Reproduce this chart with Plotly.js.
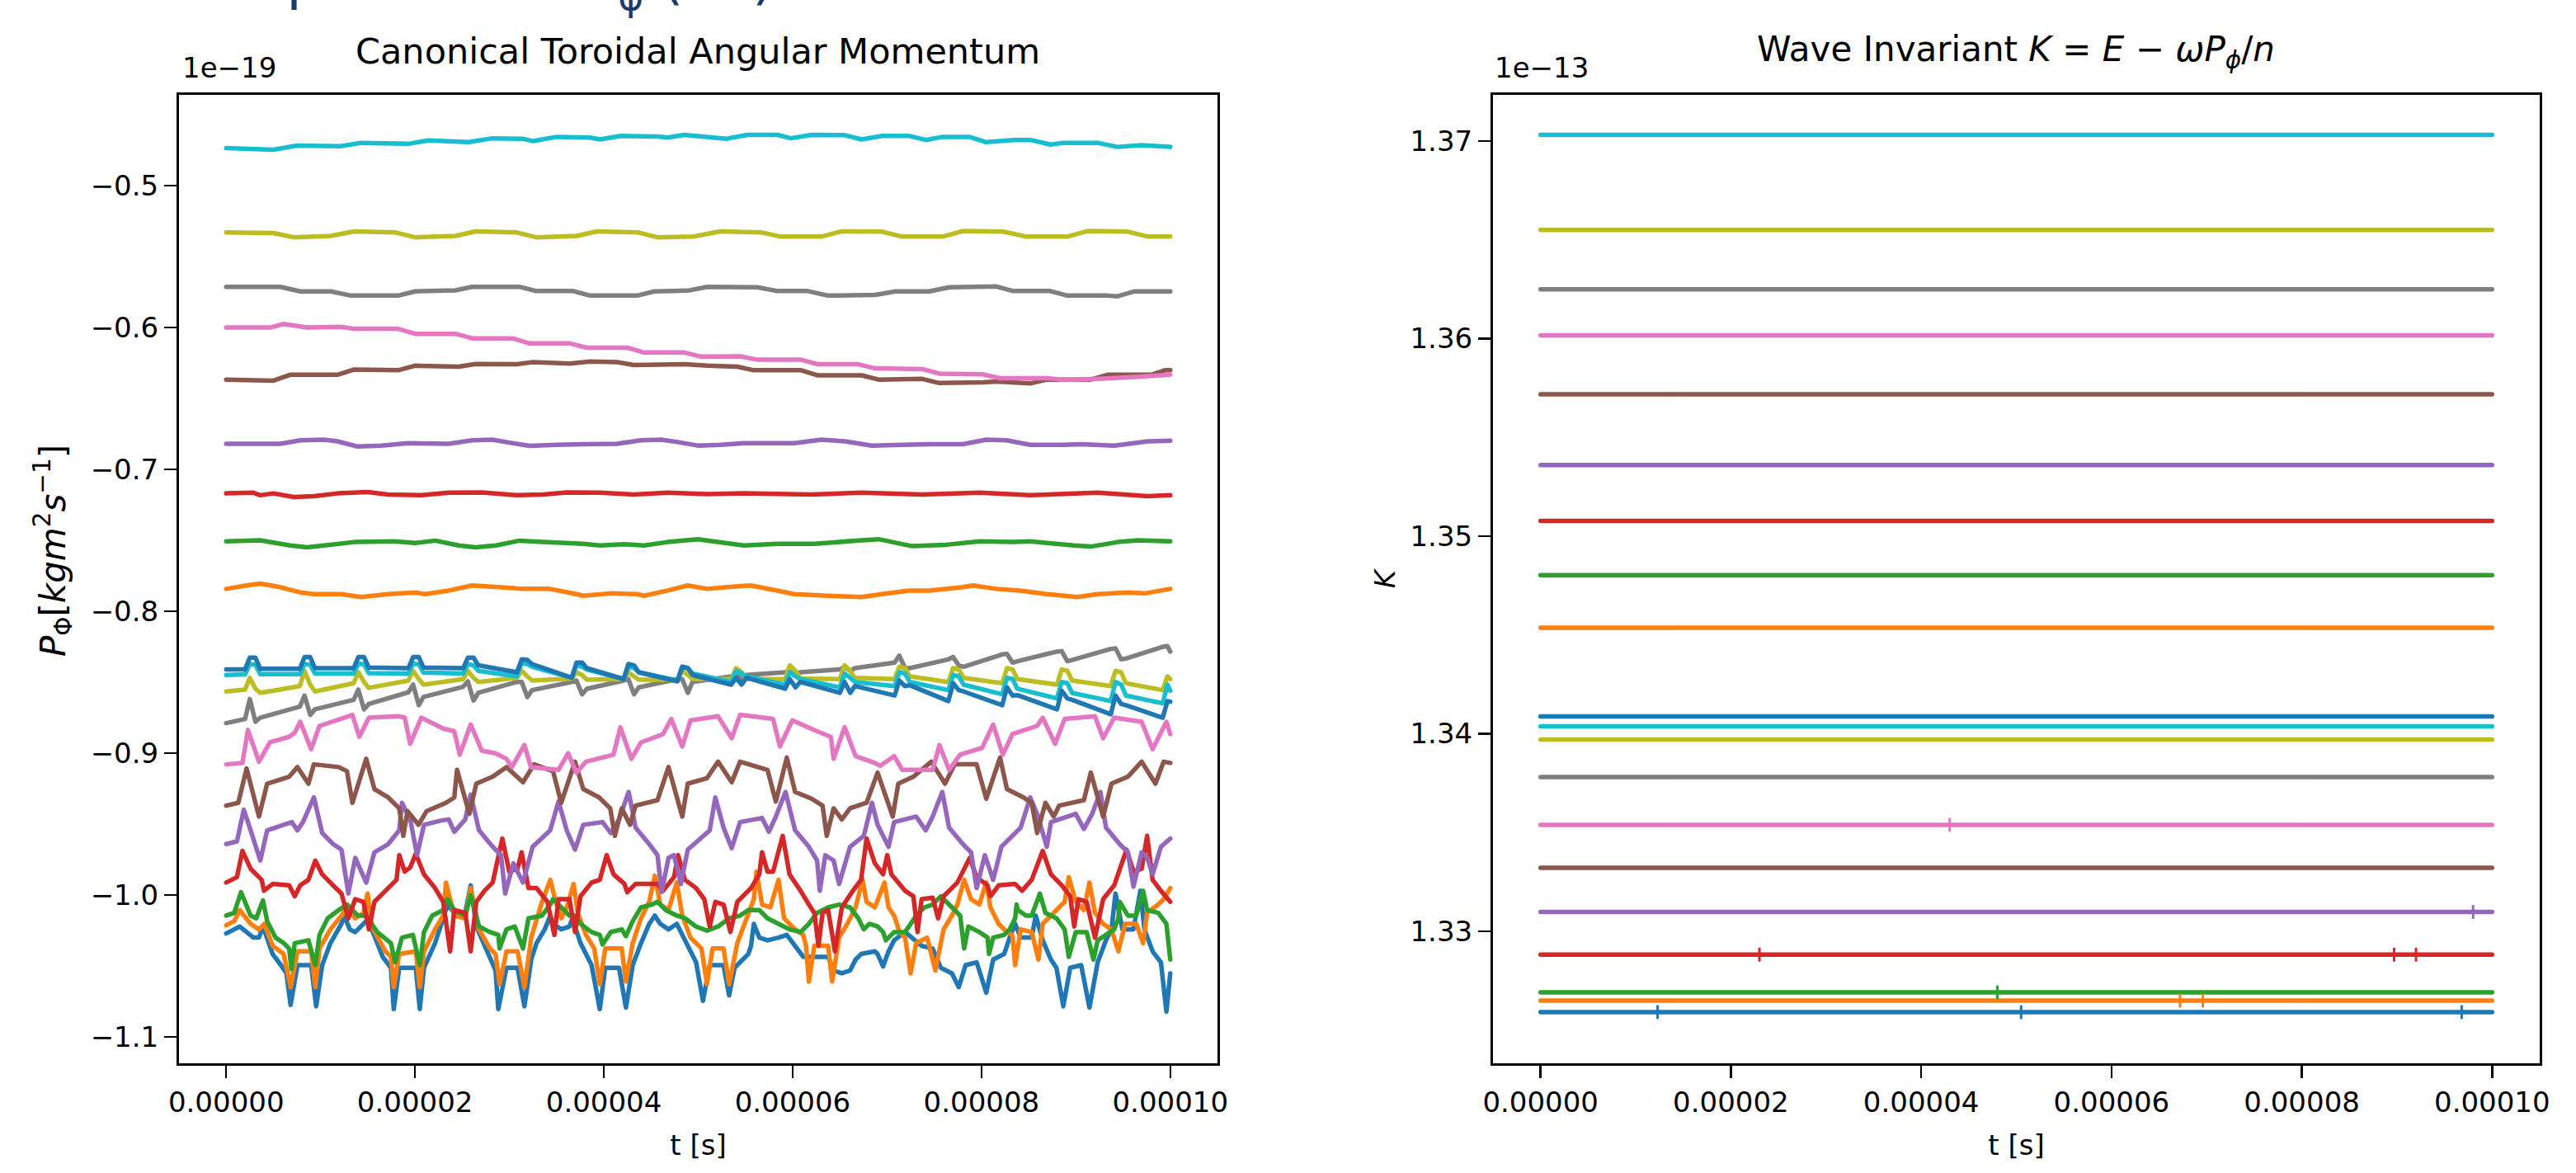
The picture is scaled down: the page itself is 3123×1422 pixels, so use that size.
<!DOCTYPE html>
<html>
<head>
<meta charset="utf-8">
<script src="https://cdn.plot.ly/plotly-3.0.1.min.js"></script>
<style>
html,body{margin:0;padding:0;background:#fff;}
#chart{width:3123px;height:1422px;}
path.js-line{stroke-linejoin:round;stroke-linecap:round;}
</style>
</head>
<body>
<div id="chart"></div>
<script>
// ---------- units ----------
const T_UNIT = 1e-5;              // all time arrays below are in units of 1e-5 s
const P_OFFSET_LABEL = '1e\u221219'; // P_phi values below are in units of 1e-19
const K_OFFSET_LABEL = '1e\u221213'; // K values below are in units of 1e-13
const TAB10 = ['#1f77b4','#ff7f0e','#2ca02c','#d62728','#9467bd','#8c564b','#e377c2','#7f7f7f','#bcbd22','#17becf'];

// ---------- left panel: canonical toroidal angular momentum (20 particles) ----------
// particle 0 (blue)
const tBlue0 = [0,0.143,0.288,0.347,0.390,0.492,0.580,0.638,0.682,0.755,0.900,0.953,1.017,1.104,1.221,1.250,1.309,1.367,1.483,1.542,1.658,1.745,1.775,1.833,2.008,2.051,2.095,2.212,2.299,2.343,2.416,2.532,2.590,2.649,2.765,2.853,2.882,2.969,3.086,3.159,3.231,3.287,3.374,3.433,3.462,3.549,3.636,3.666,3.753,3.870,3.957,4.015,4.161,4.234,4.306,4.394,4.481,4.540,4.598,4.685,4.773,4.860,4.977,5.050,5.122,5.268,5.327,5.385,5.443,5.530,5.559,5.589,5.647,5.734,5.851,5.938,6.113,6.376,6.434,6.521,6.608,6.667,6.725,6.871,6.900,6.958,7.016,7.075,7.191,7.366,7.483,7.570,7.687,7.759,7.832,7.949,8.051,8.124,8.240,8.299,8.357,8.415,8.532,8.575,8.649,8.736,8.794,8.867,8.940,9.056,9.144,9.231,9.319,9.377,9.420,9.493,9.610,9.683,9.726,9.813,9.901,9.959,10.0];
const pBlue0 = [-1.0271,-1.0222,-1.0300,-1.0300,-1.0222,-1.0416,-1.0494,-1.0552,-1.0775,-1.0494,
-1.0494,-1.0784,-1.0494,-1.0339,-1.0203,-1.0145,-1.0242,-1.0261,-1.0184,-1.0242,
-1.0436,-1.0513,-1.0804,-1.0513,-1.0513,-1.0804,-1.0513,-1.0339,-1.0164,-1.0067,
-1.0126,-1.0126,-0.9932,-1.0222,-1.0397,-1.0532,-1.0804,-1.0513,-1.0513,-1.0784,
-1.0455,-1.0339,-1.0242,-1.0145,-1.0203,-1.0242,-1.0222,-1.0164,-1.0339,-1.0494,
-1.0804,-1.0513,-1.0513,-1.0794,-1.0494,-1.0339,-1.0203,-1.0145,-1.0203,-1.0242,
-1.0203,-1.0319,-1.0474,-1.0746,-1.0494,-1.0494,-1.0707,-1.0513,-1.0474,-1.0416,
-1.0358,-1.0203,-1.0300,-1.0319,-1.0300,-1.0281,-1.0436,-1.0436,-1.0532,-1.0552,
-1.0532,-1.0455,-1.0416,-1.0397,-1.0416,-1.0503,-1.0397,-1.0319,-1.0261,-1.0358,
-1.0377,-1.0513,-1.0552,-1.0649,-1.0494,-1.0474,-1.0688,-1.0455,-1.0416,-1.0300,
-1.0203,-1.0300,-1.0300,-1.0145,-1.0319,-1.0455,-1.0513,-1.0784,-1.0513,-1.0494,
-1.0794,-1.0474,-1.0319,-1.0242,-0.9990,-1.0242,-1.0242,-0.9970,-1.0242,-1.0397,
-1.0474,-1.0823,-1.0552];

// particle 1 (orange)
const tOrange1 = [0,0.085,0.143,0.259,0.347,0.405,0.492,0.609,0.682,0.755,0.900,0.944,0.988,1.104,1.221,1.279,1.367,1.454,1.498,1.542,1.687,1.745,1.775,1.833,2.008,2.051,2.095,2.212,2.299,2.328,2.416,2.532,2.590,2.678,2.794,2.853,2.896,2.969,3.086,3.159,3.231,3.345,3.433,3.491,3.549,3.607,3.680,3.724,3.811,3.899,3.957,4.015,4.190,4.234,4.306,4.394,4.481,4.540,4.598,4.685,4.773,4.831,4.918,5.035,5.093,5.152,5.268,5.327,5.414,5.501,5.589,5.618,5.676,5.764,5.851,5.909,6.026,6.113,6.142,6.172,6.230,6.376,6.419,6.492,6.579,6.667,6.740,6.783,6.871,6.973,7.016,7.075,7.133,7.191,7.250,7.308,7.425,7.512,7.599,7.687,7.745,7.817,7.890,7.978,8.051,8.095,8.182,8.270,8.328,8.357,8.415,8.532,8.604,8.649,8.765,8.881,8.925,8.998,9.085,9.144,9.202,9.289,9.377,9.450,9.522,9.639,9.712,9.755,9.872,9.930,10.0];
const pOrange1 = [-1.0213,-1.0184,-1.0106,-1.0203,-1.0242,-1.0203,-1.0358,-1.0416,-1.0649,-1.0397,
-1.0397,-1.0649,-1.0377,-1.0242,-1.0145,-1.0087,-1.0164,-1.0126,-0.9990,-1.0222,
-1.0397,-1.0436,-1.0649,-1.0416,-1.0397,-1.0649,-1.0397,-1.0242,-1.0145,-0.9912,
-1.0145,-1.0164,-0.9951,-1.0242,-1.0377,-1.0416,-1.0629,-1.0397,-1.0397,-1.0649,
-1.0300,-1.0048,-0.9893,-1.0048,-1.0164,-1.0087,-0.9922,-1.0126,-1.0281,-1.0377,
-1.0629,-1.0377,-1.0377,-1.0610,-1.0339,-1.0164,-1.0048,-0.9864,-1.0067,-1.0106,
-0.9912,-1.0145,-1.0300,-1.0377,-1.0629,-1.0377,-1.0377,-1.0629,-1.0339,-1.0184,
-1.0029,-0.9835,-1.0067,-1.0087,-0.9893,-1.0164,-1.0242,-1.0281,-1.0358,-1.0610,
-1.0358,-1.0358,-1.0610,-1.0300,-1.0203,-1.0087,-0.9893,-1.0048,-1.0087,-0.9912,
-1.0087,-1.0145,-1.0261,-1.0300,-1.0552,-1.0339,-1.0300,-1.0532,-1.0242,-1.0145,
-1.0067,-0.9893,-1.0029,-1.0067,-0.9912,-1.0087,-1.0203,-1.0261,-1.0281,-1.0494,
-1.0242,-1.0261,-1.0455,-1.0203,-1.0126,-1.0048,-0.9874,-1.0048,-1.0106,-0.9912,
-1.0126,-1.0203,-1.0242,-1.0397,-1.0203,-1.0203,-1.0339,-1.0126,-1.0067,-1.0029,
-0.9951];

// particle 2 (green)
const tGreen2 = [0,0.085,0.157,0.259,0.318,0.390,0.434,0.522,0.609,0.667,0.691,0.726,0.871,0.944,0.988,1.075,1.192,1.279,1.396,1.483,1.600,1.745,1.789,1.862,1.978,2.051,2.095,2.182,2.299,2.343,2.416,2.532,2.590,2.678,2.794,2.882,2.896,2.969,3.057,3.144,3.202,3.345,3.433,3.462,3.549,3.636,3.695,3.753,3.870,3.957,3.986,4.074,4.190,4.234,4.306,4.394,4.510,4.569,4.656,4.773,4.860,4.977,5.093,5.210,5.327,5.443,5.530,5.647,5.734,5.851,5.967,6.084,6.172,6.259,6.376,6.492,6.608,6.696,6.754,6.812,6.900,6.958,6.987,7.075,7.191,7.250,7.308,7.395,7.483,7.570,7.657,7.716,7.774,7.817,7.861,7.978,8.065,8.080,8.124,8.240,8.299,8.357,8.372,8.386,8.473,8.532,8.619,8.678,8.794,8.881,8.925,8.998,9.114,9.187,9.231,9.319,9.406,9.450,9.464,9.551,9.639,9.712,9.755,9.872,9.959,10.0];
const pGreen2 = [-1.0145,-1.0126,-0.9980,-1.0145,-1.0164,-1.0038,-1.0184,-1.0300,-1.0339,-1.0377,
-1.0523,-1.0339,-1.0319,-1.0494,-1.0281,-1.0164,-1.0106,-1.0067,-1.0145,-1.0145,
-1.0261,-1.0339,-1.0474,-1.0300,-1.0281,-1.0494,-1.0261,-1.0145,-1.0106,-1.0029,
-1.0106,-1.0145,-1.0000,-1.0222,-1.0261,-1.0281,-1.0377,-1.0242,-1.0222,-1.0377,
-1.0164,-1.0145,-1.0067,-1.0029,-1.0087,-1.0145,-1.0145,-1.0203,-1.0261,-1.0281,
-1.0348,-1.0261,-1.0242,-1.0290,-1.0184,-1.0087,-1.0067,-1.0048,-1.0106,-1.0145,
-1.0164,-1.0222,-1.0251,-1.0222,-1.0164,-1.0145,-1.0106,-1.0106,-1.0164,-1.0203,
-1.0242,-1.0261,-1.0203,-1.0126,-1.0087,-1.0067,-1.0087,-1.0164,-1.0242,-1.0203,
-1.0222,-1.0261,-1.0319,-1.0261,-1.0261,-1.0203,-1.0145,-1.0087,-1.0067,-1.0009,
-1.0067,-1.0106,-1.0145,-1.0377,-1.0222,-1.0261,-1.0300,-1.0416,-1.0300,-1.0281,
-1.0242,-1.0164,-1.0067,-1.0106,-1.0145,-1.0145,-0.9990,-1.0126,-1.0164,-1.0242,
-1.0436,-1.0261,-1.0261,-1.0455,-1.0319,-1.0281,-1.0242,-1.0164,-1.0048,-1.0145,
-1.0145,-0.9970,-1.0106,-1.0126,-1.0203,-1.0455];

// particle 3 (red)
const tRed3 = [0,0.114,0.172,0.259,0.376,0.40,0.492,0.667,0.726,0.784,0.871,0.944,1.017,1.133,1.221,1.294,1.367,1.454,1.512,1.570,1.687,1.804,1.833,1.891,1.949,2.008,2.095,2.212,2.299,2.372,2.416,2.532,2.590,2.649,2.736,2.823,2.925,2.998,3.086,3.129,3.202,3.287,3.403,3.476,3.520,3.636,3.695,3.753,3.870,3.957,4.030,4.103,4.219,4.248,4.336,4.569,4.627,4.744,4.787,4.860,4.977,5.064,5.122,5.181,5.268,5.341,5.414,5.559,5.647,5.676,5.734,5.793,5.895,5.967,6.084,6.172,6.230,6.274,6.317,6.376,6.448,6.521,6.638,6.725,6.783,6.871,6.958,7.002,7.046,7.191,7.279,7.323,7.366,7.483,7.541,7.599,7.745,7.876,7.949,8.065,8.095,8.182,8.357,8.430,8.532,8.649,8.736,8.852,8.940,8.983,9.027,9.114,9.202,9.289,9.406,9.537,9.610,9.697,9.755,9.813,9.901,10.0];
const pRed3 = [-0.9912,-0.9874,-0.9689,-0.9815,-0.9893,-0.9970,-0.9922,-0.9932,-1.0009,-0.9932,
-0.9893,-0.9757,-0.9854,-0.9932,-0.9990,-1.0164,-1.0029,-1.0048,-1.0242,-1.0048,
-0.9970,-0.9893,-0.9719,-0.9835,-0.9806,-0.9709,-0.9854,-0.9951,-1.0048,-1.0397,
-1.0106,-1.0126,-1.0397,-1.0048,-0.9970,-0.9912,-0.9602,-0.9835,-0.9815,-0.9699,
-0.9951,-0.9951,-1.0048,-1.0281,-1.0029,-1.0029,-1.0261,-1.0009,-0.9912,-0.9893,
-0.9719,-0.9854,-0.9922,-0.9980,-0.9922,-0.9922,-0.9970,-0.9874,-0.9719,-0.9893,
-0.9951,-1.0029,-1.0222,-1.0048,-1.0067,-1.0261,-1.0048,-0.9951,-0.9854,-0.9699,
-0.9835,-0.9835,-0.9583,-0.9854,-0.9970,-1.0067,-1.0126,-1.0358,-1.0126,-1.0106,
-1.0397,-1.0087,-0.9970,-0.9893,-0.9602,-0.9777,-0.9854,-0.9719,-0.9854,-0.9970,
-1.0009,-1.0261,-1.0029,-1.0019,-1.0164,-1.0009,-0.9912,-0.9738,-0.9874,-0.9932,
-1.0009,-0.9932,-0.9922,-0.9970,-0.9893,-0.9689,-0.9854,-0.9932,-1.0009,-1.0222,
-1.0029,-1.0048,-1.0300,-1.0029,-0.9932,-0.9680,-0.9835,-0.9815,-0.9583,-0.9893,
-0.9970,-1.0048];

// particle 4 (purple)
const tPurple4 = [0,0.114,0.186,0.259,0.361,0.434,0.609,0.696,0.755,0.813,0.929,1.017,1.133,1.221,1.294,1.367,1.483,1.570,1.716,1.833,1.862,1.949,2.022,2.095,2.270,2.357,2.416,2.532,2.590,2.678,2.823,2.911,2.955,3.042,3.144,3.246,3.432,3.520,3.607,3.695,3.782,3.986,4.074,4.161,4.263,4.336,4.481,4.569,4.612,4.685,4.743,4.816,4.889,5.122,5.181,5.268,5.355,5.443,5.676,5.749,5.822,5.924,6.026,6.172,6.259,6.288,6.346,6.434,6.492,6.608,6.754,6.84,6.90,7.016,7.075,7.308,7.410,7.483,7.585,7.657,7.803,7.890,7.949,8.036,8.124,8.211,8.415,8.517,8.590,8.692,8.736,8.998,9.085,9.173,9.260,9.319,9.464,9.551,9.610,9.697,9.756,9.813,9.901,10.0];
const pPurple4 = [-0.9641,-0.9622,-0.9399,-0.9544,-0.9757,-0.9544,-0.9505,-0.9486,-0.9544,-0.9486,
-0.9312,-0.9563,-0.9641,-0.9680,-0.9990,-0.9738,-0.9912,-0.9699,-0.9641,-0.9544,
-0.9350,-0.9467,-0.9719,-0.9505,-0.9476,-0.9467,-0.9554,-0.9467,-0.9292,-0.9544,
-0.9660,-0.9719,-0.9990,-0.9777,-0.9912,-0.9660,-0.9544,-0.9341,-0.9544,-0.9680,
-0.9505,-0.9486,-0.9563,-0.9467,-0.9273,-0.9525,-0.9641,-0.9719,-0.9980,-0.9738,
-0.9719,-0.9922,-0.9680,-0.9544,-0.9312,-0.9525,-0.9670,-0.9486,-0.9457,-0.9554,
-0.9447,-0.9273,-0.9544,-0.9660,-0.9757,-0.9970,-0.9719,-0.9757,-0.9922,-0.9660,
-0.9583,-0.9350,-0.9505,-0.9660,-0.9486,-0.9447,-0.9544,-0.9447,-0.9273,-0.9525,
-0.9641,-0.9699,-0.9951,-0.9719,-0.9893,-0.9660,-0.9525,-0.9312,-0.9428,-0.9660,
-0.9486,-0.9428,-0.9534,-0.9428,-0.9273,-0.9525,-0.9641,-0.9699,-0.9941,-0.9699,
-0.9738,-0.9854,-0.9660,-0.9602];

// particle 5 (brown)
const tBrown5 = [0,0.128,0.216,0.347,0.434,0.667,0.755,0.871,0.929,1.192,1.279,1.337,1.483,1.570,1.716,1.833,1.876,1.920,2.037,2.124,2.328,2.416,2.445,2.576,2.649,2.823,2.969,3.144,3.261,3.462,3.549,3.695,3.782,3.951,4.068,4.117,4.190,4.278,4.336,4.569,4.685,4.831,4.889,5.093,5.210,5.355,5.443,5.734,5.822,5.938,6.026,6.201,6.317,6.361,6.434,6.521,6.608,6.783,6.900,7.060,7.119,7.279,7.468,7.614,7.716,7.949,8.051,8.197,8.270,8.445,8.532,8.590,8.678,8.765,8.823,9.085,9.158,9.289,9.377,9.551,9.697,9.843,9.930,10.0];
const pBrown5 = [-0.9370,-0.9350,-0.9108,-0.9447,-0.9215,-0.9166,-0.9098,-0.9215,-0.9079,-0.9098,
-0.9127,-0.9350,-0.9040,-0.9253,-0.9312,-0.9389,-0.9583,-0.9408,-0.9505,-0.9408,
-0.9350,-0.9312,-0.9118,-0.9428,-0.9215,-0.9166,-0.9098,-0.9205,-0.9079,-0.9127,
-0.9350,-0.9060,-0.9253,-0.9312,-0.9389,-0.9583,-0.9389,-0.9505,-0.9370,-0.9331,
-0.9098,-0.9447,-0.9215,-0.9176,-0.9060,-0.9205,-0.9060,-0.9118,-0.9341,-0.9031,
-0.9273,-0.9321,-0.9370,-0.9583,-0.9389,-0.9467,-0.9389,-0.9350,-0.9137,-0.9447,
-0.9215,-0.9166,-0.9060,-0.9215,-0.9079,-0.9079,-0.9321,-0.9031,-0.9253,-0.9312,
-0.9350,-0.9563,-0.9350,-0.9447,-0.9370,-0.9331,-0.9137,-0.9447,-0.9215,-0.9166,
-0.9060,-0.9215,-0.9060,-0.9069];

// particle 6 (pink)
const tPink6 = [0,0.172,0.230,0.347,0.463,0.667,0.726,0.784,0.900,0.988,1.250,1.337,1.410,1.512,1.833,1.891,1.949,2.066,2.124,2.299,2.416,2.474,2.590,2.707,2.853,2.969,3.027,3.159,3.228,3.520,3.622,3.709,3.811,4.044,4.103,4.175,4.292,4.394,4.627,4.714,4.831,4.918,5.210,5.355,5.443,5.793,5.865,5.997,6.259,6.405,6.434,6.550,6.667,6.871,6.929,7.075,7.162,7.483,7.555,7.657,7.774,8.007,8.124,8.226,8.328,8.590,8.649,8.780,8.881,9.202,9.289,9.406,9.697,9.813,9.959,10.0];
const pPink6 = [-0.9079,-0.9069,-0.8837,-0.9060,-0.8924,-0.8885,-0.8856,-0.8779,-0.8972,-0.8808,
-0.8750,-0.8730,-0.8885,-0.8750,-0.8740,-0.8750,-0.8934,-0.8750,-0.8769,-0.8827,
-0.8846,-0.9011,-0.8798,-0.8982,-0.9001,-0.9040,-0.9098,-0.8943,-0.9098,-0.9118,
-0.9001,-0.9137,-0.9060,-0.9021,-0.9011,-0.8817,-0.9040,-0.8924,-0.8866,-0.8759,
-0.8953,-0.8769,-0.8740,-0.8895,-0.8730,-0.8759,-0.8953,-0.8769,-0.8846,-0.8885,
-0.9040,-0.8817,-0.9021,-0.9069,-0.9089,-0.9021,-0.9118,-0.9118,-0.8943,-0.9118,
-0.9011,-0.8963,-0.8798,-0.9011,-0.8866,-0.8808,-0.8750,-0.8934,-0.8759,-0.8740,
-0.8895,-0.8750,-0.8779,-0.8972,-0.8779,-0.8866];

// particles 7-10 share their sampling times (bumps occur together)
const tBumpGroup = [0,
0.20,0.25,0.31,0.36, 0.78,0.83,0.89,0.94, 1.35,1.40,1.46,1.51, 1.93,1.98,2.04,2.09,
2.51,2.56,2.62,2.67, 3.08,3.13,3.19,3.24, 3.66,3.71,3.77,3.82, 4.21,4.26,4.32,4.37,
4.78,4.83,4.89,4.94, 5.35,5.40,5.46,5.51, 5.92,5.97,6.03,6.08, 6.50,6.55,6.61,6.66,
7.08,7.13,7.19,7.24, 7.65,7.70,7.76,7.81, 8.22,8.27,8.33,8.38, 8.80,8.85,8.91,8.96,
9.37,9.42,9.48,9.53, 9.92,9.97,10.0];
const pGray7 = [-0.8788,
-0.8759,-0.8618,-0.8779,-0.8750, -0.8672,-0.8594,-0.8730,-0.8691, -0.8624,-0.8552,-0.8691,-0.8653, -0.8571,-0.8517,-0.8662,-0.8604,
-0.8532,-0.8494,-0.8629,-0.8575, -0.8498,-0.8498,-0.8604,-0.8556, -0.8498,-0.8488,-0.8585,-0.8546, -0.8488,-0.8478,-0.8585,-0.8536,
-0.8478,-0.8478,-0.8575,-0.8498, -0.8459,-0.8449,-0.8478,-0.8449, -0.8430,-0.8420,-0.8449,-0.8430, -0.8410,-0.8391,-0.8420,-0.8401,
-0.8362,-0.8313,-0.8401,-0.8401, -0.8339,-0.8323,-0.8381,-0.8391, -0.8304,-0.8300,-0.8362,-0.8352, -0.8284,-0.8281,-0.8352,-0.8343,
-0.8265,-0.8261,-0.8339,-0.8333, -0.8250,-0.8246,-0.8284];
const pOlive8 = [-0.8565,
-0.8552,-0.8469,-0.8546,-0.8575, -0.8527,-0.8420,-0.8517,-0.8565, -0.8507,-0.8430,-0.8498,-0.8540, -0.8488,-0.8420,-0.8478,-0.8517,
-0.8478,-0.8420,-0.8469,-0.8498, -0.8469,-0.8420,-0.8459,-0.8488, -0.8474,-0.8430,-0.8449,-0.8482, -0.8478,-0.8430,-0.8459,-0.8482,
-0.8482,-0.8420,-0.8449,-0.8478, -0.8478,-0.8401,-0.8430,-0.8478, -0.8478,-0.8381,-0.8420,-0.8474, -0.8478,-0.8381,-0.8420,-0.8469,
-0.8478,-0.8391,-0.8401,-0.8459, -0.8498,-0.8401,-0.8410,-0.8469, -0.8507,-0.8401,-0.8410,-0.8478, -0.8517,-0.8410,-0.8420,-0.8488,
-0.8527,-0.8420,-0.8430,-0.8507, -0.8556,-0.8459,-0.8478];
const pCyan9 = [-0.8449,
-0.8445,-0.8372,-0.8377,-0.8443, -0.8443,-0.8372,-0.8377,-0.8439, -0.8439,-0.8368,-0.8374,-0.8436, -0.8439,-0.8368,-0.8374,-0.8432,
-0.8439,-0.8372,-0.8381,-0.8420, -0.8459,-0.8362,-0.8372,-0.8391, -0.8469,-0.8381,-0.8391,-0.8410, -0.8478,-0.8391,-0.8401,-0.8430,
-0.8488,-0.8391,-0.8401,-0.8439, -0.8498,-0.8420,-0.8439,-0.8459, -0.8517,-0.8430,-0.8459,-0.8478, -0.8536,-0.8439,-0.8469,-0.8498,
-0.8527,-0.8430,-0.8439,-0.8498, -0.8556,-0.8449,-0.8459,-0.8517, -0.8585,-0.8469,-0.8478,-0.8546, -0.8614,-0.8498,-0.8507,-0.8575,
-0.8633,-0.8498,-0.8517,-0.8594, -0.8649,-0.8517,-0.8560];
const pBlue10 = [-0.8410,
-0.8410,-0.8327,-0.8327,-0.8405, -0.8405,-0.8323,-0.8323,-0.8401, -0.8401,-0.8323,-0.8323,-0.8397, -0.8401,-0.8323,-0.8323,-0.8397,
-0.8401,-0.8327,-0.8327,-0.8381, -0.8430,-0.8339,-0.8343,-0.8372, -0.8469,-0.8362,-0.8362,-0.8401, -0.8478,-0.8372,-0.8381,-0.8430,
-0.8494,-0.8391,-0.8401,-0.8449, -0.8517,-0.8469,-0.8517,-0.8469, -0.8546,-0.8478,-0.8536,-0.8498, -0.8575,-0.8498,-0.8575,-0.8527,
-0.8594,-0.8488,-0.8527,-0.8521, -0.8633,-0.8507,-0.8556,-0.8565, -0.8662,-0.8536,-0.8594,-0.8591, -0.8691,-0.8560,-0.8614,-0.8624,
-0.8726,-0.8594,-0.8653,-0.8662, -0.8750,-0.8633,-0.8637];

// particles 11-19: nearly steady lines
const tOrange11 = [0,0.216,0.358,0.572,0.786,0.929,1.215,1.429,1.714,2.0,2.107,2.356,2.606,2.891,3.141,3.427,3.712,3.783,4.069,4.354,4.426,4.675,4.89,5.096,5.305,5.555,5.84,6.018,6.375,6.732,6.946,7.231,7.446,7.802,7.909,8.159,8.409,8.694,9.015,9.23,9.55,9.729,10.0];
const pOrange11 = [-0.7842,-0.7818,-0.7805,-0.7830,-0.7867,-0.7879,-0.7879,-0.7899,-0.7879,-0.7867,-0.7879,-0.7854,-0.7818,-0.7830,-0.7842,-0.7842,-0.7879,-0.7891,-0.7874,-0.7879,-0.7891,-0.7854,-0.7818,-0.7842,-0.7830,-0.7818,-0.7854,-0.7879,-0.7891,-0.7899,-0.7879,-0.7854,-0.7854,-0.7830,-0.7818,-0.7842,-0.7854,-0.7879,-0.7899,-0.7879,-0.7867,-0.7874,-0.7842];
const tGreen12 = [0,0.358,0.679,0.858,1.036,1.357,1.785,2.0,2.214,2.463,2.642,2.856,3.106,3.355,3.605,3.783,3.962,4.211,4.426,4.675,4.996,5.483,5.84,6.232,6.732,6.91,7.267,7.624,7.981,8.338,8.516,8.98,9.158,9.444,9.658,10.0];
const pGreen12 = [-0.7507,-0.7500,-0.7536,-0.7549,-0.7536,-0.7512,-0.7507,-0.7519,-0.7502,-0.7536,-0.7549,-0.7536,-0.7502,-0.7512,-0.7519,-0.7524,-0.7536,-0.7527,-0.7536,-0.7512,-0.7492,-0.7536,-0.7524,-0.7524,-0.7500,-0.7492,-0.7541,-0.7531,-0.7507,-0.7512,-0.7507,-0.7536,-0.7544,-0.7512,-0.7500,-0.7507];
const tRed13 = [0,0.287,0.358,0.5,0.715,0.929,1.179,1.5,1.714,2.071,2.356,2.713,3.07,3.355,3.605,3.962,4.319,4.675,5.096,5.483,6.197,6.732,7.374,7.981,8.516,9.051,9.23,9.765,10.0];
const pRed13 = [-0.7169,-0.7164,-0.7182,-0.7169,-0.7194,-0.7189,-0.7169,-0.7160,-0.7177,-0.7182,-0.7164,-0.7162,-0.7182,-0.7177,-0.7162,-0.7164,-0.7177,-0.7164,-0.7174,-0.7169,-0.7177,-0.7164,-0.7177,-0.7164,-0.7182,-0.7169,-0.7164,-0.7189,-0.7182];
const tPurple14 = [0,0.572,0.786,1.036,1.179,1.393,1.643,1.928,2.356,2.606,2.82,2.963,3.213,3.498,3.783,4.14,4.39,4.604,4.782,4.996,5.234,5.483,6.018,6.304,6.554,6.839,7.16,7.446,7.802,8.052,8.266,8.516,8.873,9.051,9.408,9.765,10.0];
const pPurple14 = [-0.6819,-0.6819,-0.6795,-0.6790,-0.6802,-0.6839,-0.6832,-0.6815,-0.6819,-0.6795,-0.6790,-0.6807,-0.6834,-0.6827,-0.6822,-0.6819,-0.6795,-0.6790,-0.6807,-0.6832,-0.6827,-0.6815,-0.6815,-0.6790,-0.6802,-0.6832,-0.6827,-0.6822,-0.6822,-0.6790,-0.6795,-0.6827,-0.6827,-0.6822,-0.6832,-0.6802,-0.6797];
const tBrown15 = [0,0.5,0.679,1.179,1.357,1.821,2.0,2.463,2.642,3.07,3.248,3.641,3.855,4.14,4.319,4.854,5.096,5.412,5.59,6.09,6.268,6.732,6.91,7.374,7.553,8.016,8.159,8.516,8.694,9.158,9.337,9.8,9.943,10.0];
const pBrown15 = [-0.6367,-0.6374,-0.6333,-0.6333,-0.6296,-0.6301,-0.6269,-0.6276,-0.6257,-0.6259,-0.6244,-0.6254,-0.6240,-0.6244,-0.6264,-0.6259,-0.6269,-0.6276,-0.6301,-0.6301,-0.6337,-0.6337,-0.6367,-0.6362,-0.6391,-0.6386,-0.6381,-0.6394,-0.6367,-0.6367,-0.6333,-0.6333,-0.6301,-0.6301];
const tPink16 = [0,0.465,0.608,0.858,1.215,1.357,1.821,2.0,2.428,2.606,3.034,3.213,3.641,3.819,4.247,4.426,4.854,5.032,5.447,5.626,6.09,6.268,6.696,6.875,7.374,7.553,8.016,8.195,8.694,8.873,9.23,9.586,10.0];
const pPink16 = [-0.6000,-0.6000,-0.5975,-0.6000,-0.5995,-0.6009,-0.6009,-0.6044,-0.6044,-0.6076,-0.6076,-0.6112,-0.6112,-0.6142,-0.6142,-0.6176,-0.6176,-0.6205,-0.6203,-0.6227,-0.6227,-0.6259,-0.6259,-0.6288,-0.6293,-0.6325,-0.6330,-0.6357,-0.6357,-0.6369,-0.6362,-0.6350,-0.6332];
const tGray17 = [0,0.572,0.786,1.108,1.322,1.821,2.0,2.428,2.606,3.106,3.284,3.676,3.855,4.354,4.533,4.89,5.096,5.626,5.84,6.161,6.375,6.875,7.089,7.446,7.66,8.159,8.338,8.73,8.908,9.337,9.444,9.622,10.0];
const pGray17 = [-0.5713,-0.5713,-0.5745,-0.5745,-0.5775,-0.5775,-0.5745,-0.5738,-0.5713,-0.5713,-0.5743,-0.5743,-0.5775,-0.5775,-0.5745,-0.5740,-0.5713,-0.5716,-0.5743,-0.5743,-0.5775,-0.5770,-0.5745,-0.5745,-0.5716,-0.5711,-0.5743,-0.5743,-0.5775,-0.5775,-0.5780,-0.5745,-0.5745];
const tOlive18 = [0,0.50,0.715,1.108,1.357,1.785,2.0,2.428,2.642,3.07,3.284,3.712,3.926,4.354,4.568,4.95,5.234,5.662,5.876,6.304,6.518,6.946,7.16,7.588,7.802,8.23,8.48,8.908,9.122,9.55,9.765,10.0];
const pOlive18 = [-0.5329,-0.5334,-0.5364,-0.5354,-0.5322,-0.5329,-0.5364,-0.5354,-0.5322,-0.5329,-0.5364,-0.5354,-0.5322,-0.5329,-0.5364,-0.5359,-0.5322,-0.5329,-0.5359,-0.5359,-0.5322,-0.5324,-0.5359,-0.5359,-0.5320,-0.5324,-0.5359,-0.5359,-0.5320,-0.5324,-0.5359,-0.5359];
const tCyan19 = [0,0.50,0.75,1.21,1.43,1.93,2.14,2.57,2.82,3.14,3.25,3.50,3.85,3.96,4.18,4.57,4.68,4.85,5.30,5.52,5.84,5.98,6.20,6.55,6.73,6.95,7.23,7.41,7.59,7.87,8.05,8.34,8.52,8.73,8.87,9.23,9.44,9.69,10.0];
const pCyan19 = [-0.4735,-0.4747,-0.4718,-0.4722,-0.4698,-0.4705,-0.4681,-0.4693,-0.4666,-0.4669,-0.4686,-0.4656,-0.4661,-0.4674,-0.4649,-0.4654,-0.4661,-0.4642,-0.4669,-0.4642,-0.4642,-0.4666,-0.4642,-0.4644,-0.4674,-0.4649,-0.4649,-0.4678,-0.4656,-0.4656,-0.4693,-0.4678,-0.4678,-0.4710,-0.4698,-0.4698,-0.4727,-0.4715,-0.4727];

// ---------- right panel: wave invariant K (constant per particle) ----------
const kStart = 0, kEnd = 10;      // time span, units of 1e-5 s
const kValues = [1.32591,1.32649,1.32691,1.32882,1.33098,1.33322,1.33539,1.33781,1.33971,1.34038,
                 1.34088,1.34537,1.34803,1.35077,1.35360,1.35718,1.36017,1.36250,1.36550,1.37032];
// small numerical glitches visible on a few lines
const glitchParticle = [0,0,0,1,1,2,3,3,3,4,6];
const glitchTime     = [1.23,5.05,9.68,6.72,6.96,4.80,2.30,8.97,9.20,9.80,4.30];

// ---------- build ----------
const leftT = [tBlue0,tOrange1,tGreen2,tRed3,tPurple4,tBrown5,tPink6,tBumpGroup,tBumpGroup,tBumpGroup,
               tBumpGroup,tOrange11,tGreen12,tRed13,tPurple14,tBrown15,tPink16,tGray17,tOlive18,tCyan19];
const leftP = [pBlue0,pOrange1,pGreen2,pRed3,pPurple4,pBrown5,pPink6,pGray7,pOlive8,pCyan9,
               pBlue10,pOrange11,pGreen12,pRed13,pPurple14,pBrown15,pPink16,pGray17,pOlive18,pCyan19];

const LW = 5.5;
const traces = [];
leftT.forEach((t, i) => {
  const n = Math.min(t.length, leftP[i].length);
  traces.push({
    type:'scatter', mode:'lines', xaxis:'x', yaxis:'y',
    x: t.slice(0,n).map(v => v*T_UNIT), y: leftP[i].slice(0,n),
    line:{color:TAB10[i%10], width:LW, simplify:false}, hoverinfo:'skip'
  });
});
kValues.forEach((k, i) => {
  traces.push({
    type:'scatter', mode:'lines', xaxis:'x2', yaxis:'y2',
    x:[kStart*T_UNIT, kEnd*T_UNIT], y:[k, k],
    line:{color:TAB10[i%10], width:LW}, hoverinfo:'skip'
  });
});
glitchParticle.forEach((p, j) => {
  traces.push({
    type:'scatter', mode:'markers', xaxis:'x2', yaxis:'y2',
    x:[glitchTime[j]*T_UNIT], y:[kValues[p]],
    marker:{symbol:'line-ns', size:12, line:{color:TAB10[p%10], width:3}}, hoverinfo:'skip'
  });
});

// ---------- layout ----------
const W = 3123, H = 1422;
const M = {l:217, r:44, t:115, b:133};
const PW = W - M.l - M.r, PH = H - M.t - M.b;
const ax = px => (px - M.l) / PW;      // page pixel -> paper x
const ay = py => (H - M.b - py) / PH;  // page pixel -> paper y
const FONT = 'DejaVu Sans';

const axisCommon = {
  showgrid:false, zeroline:false, showline:true, mirror:true,
  linecolor:'#000', linewidth:3, ticks:'outside', ticklen:15, tickwidth:2.5, tickcolor:'#000',
  tickfont:{family:FONT, size:34, color:'#000'}
};
const xCommon = Object.assign({}, axisCommon, {
  range:[-0.5*T_UNIT, 10.5*T_UNIT], tick0:0, dtick:2*T_UNIT, tickformat:'.5f',
  title:{text:'t [s]', font:{family:FONT, size:34, color:'#000'}, standoff:22}
});

const layout = {
  width:W, height:H, margin:M,
  paper_bgcolor:'#fff', plot_bgcolor:'#fff', showlegend:false,
  font:{family:FONT, size:34, color:'#000'},
  xaxis:Object.assign({}, xCommon, {domain:[0, ax(1476)], anchor:'y'}),
  xaxis2:Object.assign({}, xCommon, {domain:[ax(1810), 1], anchor:'y2'}),
  yaxis:Object.assign({}, axisCommon, {
    domain:[0,1], anchor:'x', range:[-1.1186, -0.436], tick0:0, dtick:0.1, tickformat:'.1f'
  }),
  yaxis2:Object.assign({}, axisCommon, {
    domain:[0,1], anchor:'x2', range:[1.32332, 1.37234], tick0:0, dtick:0.01, tickformat:'.2f',
    title:{text:'<i>K</i>', font:{family:FONT, size:34, color:'#000'}, standoff:8}
  }),
  annotations:[
    {xref:'paper', yref:'paper', x:ax(846), y:ay(62), xanchor:'center', yanchor:'middle', showarrow:false,
     text:'Canonical Toroidal Angular Momentum', font:{family:FONT, size:43, color:'#000'}},
    {xref:'paper', yref:'paper', x:ax(2444), y:ay(62), xanchor:'center', yanchor:'middle', showarrow:false,
     text:'Wave Invariant <i>K</i> = <i>E</i> − <i>ωP</i><sub><i>ϕ</i></sub>/<i>n</i>', font:{family:FONT, size:42, color:'#000'}},
    {xref:'paper', yref:'paper', x:ax(219), y:ay(82), xanchor:'left', yanchor:'middle', showarrow:false,
     text:P_OFFSET_LABEL, font:{family:FONT, size:34, color:'#000'}},
    {xref:'paper', yref:'paper', x:ax(1810), y:ay(82), xanchor:'left', yanchor:'middle', showarrow:false,
     text:K_OFFSET_LABEL, font:{family:FONT, size:34, color:'#000'}},
    {xref:'paper', yref:'paper', x:ax(64), y:ay(668), xanchor:'center', yanchor:'middle', showarrow:false, textangle:-90,
     text:'<i>P</i><sub>Φ</sub>[<i>kgm</i><sup>2</sup><i>s</i><sup>−1</sup>]', font:{family:FONT, size:42, color:'#000'}},
    {xref:'paper', yref:'paper', x:ax(190), y:ay(-21), xanchor:'left', yanchor:'middle', showarrow:false,
     text:'Comparison of P<sub>φ</sub> (ωt)', font:{family:FONT, size:68, color:'#1b3b6f'}}
  ]
};

Plotly.newPlot('chart', traces, layout, {staticPlot:true, displayModeBar:false});
</script>
</body>
</html>
